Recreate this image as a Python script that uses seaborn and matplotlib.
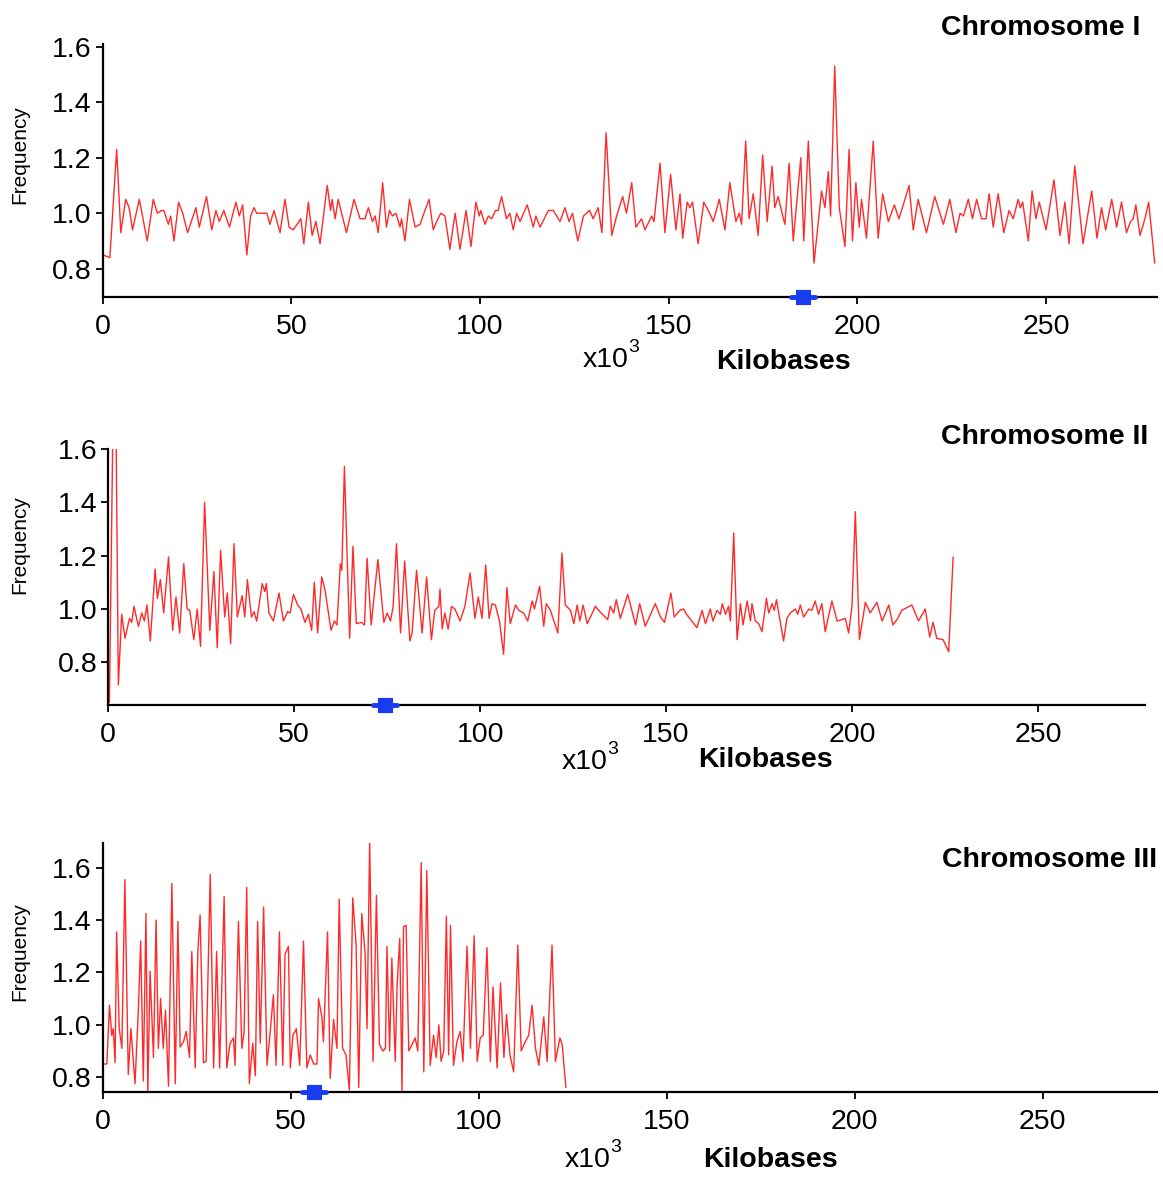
"""
Frequency along the three fission yeast chromosomes (kilobases).
"""

import matplotlib
matplotlib.use("Agg")
import matplotlib.pyplot as plt
import seaborn as sns

sns.set_style("ticks")
plt.rcParams["font.family"] = ["Liberation Sans", "DejaVu Sans"]
plt.rcParams["text.color"] = "black"
plt.rcParams["xtick.color"] = "black"
plt.rcParams["ytick.color"] = "black"
plt.rcParams["axes.edgecolor"] = "black"

W, H = 1163, 1177

# Chromosome I
chr1_kb = [
    0.0, 1.9, 3.7, 4.8, 6.1, 7.0, 7.9, 9.7, 11.8, 13.4,
    14.5, 15.6, 16.2, 17.4, 18.0, 18.9, 20.1, 21.2, 22.5, 24.7,
    25.6, 27.5, 28.9, 30.0, 30.9, 32.1, 33.6, 35.3, 36.2, 37.1,
    38.2, 39.2, 40.1, 40.8, 43.5, 44.3, 45.4, 47.0, 48.3, 49.4,
    50.5, 52.5, 53.3, 54.5, 55.5, 56.5, 57.6, 59.5, 60.4, 60.8,
    61.6, 62.4, 64.6, 66.6, 68.2, 69.5, 70.4, 71.5, 72.2, 73.0,
    74.2, 75.2, 76.0, 76.8, 77.7, 78.8, 79.2, 80.1, 81.3, 82.8,
    84.1, 85.4, 86.5, 87.6, 88.5, 89.6, 90.7, 92.0, 93.4, 94.7,
    96.3, 97.6, 98.9, 99.8, 100.2, 101.3, 102.2, 103.1, 104.1, 104.8,
    105.7, 107.0, 107.9, 108.8, 109.7, 110.6, 112.5, 114.1, 114.8, 115.9,
    118.1, 119.4, 121.2, 122.5, 123.6, 124.5, 125.9, 127.4, 129.0, 130.0,
    131.3, 132.3, 133.4, 134.9, 136.2, 137.8, 138.8, 140.2, 141.3, 142.8,
    143.7, 145.5, 146.1, 147.7, 149.0, 150.5, 151.9, 153.0, 153.7, 154.9,
    155.6, 156.3, 157.8, 159.3, 160.5, 161.8, 163.4, 164.9, 166.2, 167.8,
    168.7, 169.3, 170.4, 171.3, 172.4, 173.7, 174.9, 176.1, 177.4, 178.1,
    179.0, 180.4, 180.8, 181.9, 183.0, 185.0, 185.8, 187.0, 188.5, 190.5,
    191.4, 192.3, 192.9, 194.0, 195.2, 196.7, 197.8, 198.7, 199.6, 200.5,
    201.1, 202.4, 204.2, 205.5, 206.7, 208.2, 209.8, 211.0, 212.6, 213.7,
    214.8, 216.1, 218.3, 220.5, 222.8, 224.5, 226.1, 227.2, 228.1, 229.4,
    230.5, 231.6, 232.9, 234.1, 234.9, 236.0, 237.3, 238.8, 240.2, 241.3,
    242.6, 243.2, 243.8, 245.3, 246.3, 247.3, 248.2, 250.0, 252.1, 253.7,
    255.0, 256.1, 257.6, 259.8, 262.1, 263.5, 264.7, 265.8, 267.4, 268.7,
    270.0, 271.3, 272.4, 273.1, 273.8, 274.9, 276.2, 277.2, 278.8,
]
chr1_freq = [
    0.85, 0.84, 1.23, 0.93, 1.05, 1.02, 0.94, 1.05, 0.90, 1.05,
    1.00, 1.01, 1.01, 0.96, 0.99, 0.90, 1.04, 1.00, 0.93, 1.02,
    0.95, 1.06, 0.94, 1.01, 0.97, 1.01, 0.95, 1.04, 0.99, 1.03,
    0.85, 0.99, 1.02, 1.00, 1.00, 0.96, 1.01, 0.93, 1.05, 0.95,
    0.94, 0.98, 0.89, 1.04, 0.92, 0.97, 0.89, 1.10, 1.01, 1.05,
    0.98, 1.05, 0.93, 1.05, 0.98, 0.98, 1.02, 0.97, 0.99, 0.93,
    1.11, 0.95, 1.01, 0.99, 1.00, 0.95, 0.98, 0.90, 1.05, 0.95,
    0.96, 1.01, 1.05, 0.94, 0.97, 1.00, 0.99, 0.87, 1.00, 0.87,
    1.01, 0.88, 1.04, 0.99, 1.01, 0.96, 0.99, 0.98, 1.01, 1.01,
    1.06, 0.98, 1.00, 0.94, 1.00, 0.97, 1.03, 0.95, 0.99, 0.95,
    1.01, 1.01, 0.97, 1.02, 0.97, 1.00, 0.90, 0.99, 1.01, 0.98,
    1.02, 0.93, 1.29, 0.92, 0.99, 1.06, 1.00, 1.11, 0.95, 0.98,
    0.94, 0.99, 0.97, 1.18, 0.93, 1.14, 0.94, 1.07, 0.91, 1.04,
    1.02, 1.04, 0.89, 1.04, 1.01, 0.97, 1.05, 0.94, 1.11, 0.97,
    1.00, 0.96, 1.26, 0.98, 1.07, 0.92, 1.21, 0.97, 1.17, 1.02,
    1.06, 0.98, 0.96, 1.18, 0.90, 1.20, 0.90, 1.26, 0.82, 1.08,
    1.02, 1.15, 0.99, 1.53, 1.02, 0.88, 1.23, 0.90, 1.11, 0.95,
    1.05, 0.91, 1.26, 0.91, 1.07, 0.97, 1.03, 0.98, 1.05, 1.10,
    0.94, 1.05, 0.93, 1.06, 0.96, 1.05, 0.93, 1.00, 0.99, 1.05,
    0.98, 1.05, 0.98, 0.98, 1.07, 0.95, 1.07, 0.93, 1.01, 0.98,
    1.05, 1.02, 1.04, 0.90, 1.08, 0.98, 1.04, 0.94, 1.12, 0.92,
    1.04, 0.89, 1.17, 0.89, 1.08, 0.91, 1.02, 0.94, 1.05, 0.95,
    1.04, 0.93, 0.97, 0.98, 1.03, 0.92, 0.98, 1.04, 0.82,
]

# Chromosome II
chr2_kb = [
    0.3, 1.2, 2.1, 2.7, 3.6, 4.5, 5.7, 6.3, 6.9, 8.1,
    9.0, 9.7, 10.4, 11.3, 12.6, 13.2, 14.0, 14.9, 16.2, 17.3,
    18.2, 19.2, 20.3, 21.2, 21.9, 23.0, 23.9, 24.8, 25.9, 27.3,
    28.4, 29.3, 30.2, 31.3, 32.0, 32.9, 33.8, 34.7, 36.0, 36.7,
    37.4, 38.5, 39.2, 39.9, 41.4, 42.1, 42.5, 43.2, 44.4, 45.9,
    47.1, 48.2, 48.9, 49.8, 50.9, 51.8, 52.9, 53.8, 54.7, 55.4,
    56.3, 57.4, 58.3, 59.9, 60.8, 61.5, 62.4, 62.8, 63.5, 64.9,
    65.8, 66.7, 68.0, 68.9, 69.6, 70.7, 72.5, 74.1, 75.0, 75.9,
    76.6, 77.5, 78.6, 79.7, 81.1, 81.7, 82.9, 84.4, 85.6, 86.9,
    87.8, 88.9, 89.2, 89.8, 90.5, 91.4, 92.3, 93.2, 94.6, 95.9,
    97.3, 98.6, 99.5, 100.5, 101.5, 102.4, 103.2, 104.1, 105.2, 106.3,
    107.2, 108.1, 109.5, 110.4, 111.7, 112.8, 114.0, 114.6, 116.0, 117.1,
    117.8, 118.9, 120.9, 122.0, 122.9, 124.3, 125.2, 126.1, 126.8, 127.7,
    128.8, 131.0, 132.2, 134.3, 135.0, 135.9, 136.6, 137.7, 139.7, 141.8,
    142.9, 144.4, 147.1, 148.5, 149.6, 151.3, 152.2, 153.7, 154.7, 155.5,
    158.3, 159.7, 160.6, 161.9, 162.6, 163.7, 164.6, 165.1, 166.0, 166.8,
    167.3, 168.2, 169.1, 170.0, 170.7, 171.8, 172.7, 173.1, 174.0, 174.9,
    175.8, 177.0, 177.6, 178.5, 179.1, 179.7, 180.3, 181.6, 182.5, 183.4,
    184.8, 185.4, 186.1, 187.0, 188.4, 189.2, 190.1, 191.0, 191.9, 192.8,
    194.6, 196.0, 197.3, 198.2, 199.1, 200.0, 200.9, 202.0, 203.6, 204.9,
    206.7, 208.1, 209.9, 211.0, 212.1, 213.4, 216.1, 217.9, 219.7, 220.9,
    221.8, 222.8, 224.5, 226.0, 227.2,
]
chr2_freq = [
    0.65, 1.65, 1.65, 0.715, 0.98, 0.89, 0.965, 0.95, 1.01, 0.935,
    0.985, 0.955, 1.015, 0.88, 1.15, 1.04, 1.11, 0.985, 1.195, 0.92,
    1.045, 0.91, 1.17, 1.0, 0.995, 0.885, 1.0, 0.86, 1.40, 0.92,
    1.14, 0.855, 1.22, 0.97, 1.06, 0.87, 1.245, 0.97, 1.05, 0.97,
    1.11, 0.97, 0.99, 0.955, 1.095, 1.065, 1.095, 0.985, 0.955, 1.06,
    0.955, 0.99, 0.985, 1.055, 1.015, 1.0, 0.95, 0.98, 0.92, 1.10,
    0.91, 1.12, 1.07, 0.92, 0.955, 0.94, 1.17, 1.145, 1.535, 0.89,
    1.235, 0.945, 0.95, 0.94, 1.19, 0.94, 1.185, 0.95, 0.985, 0.955,
    1.01, 1.245, 0.91, 1.18, 0.88, 0.91, 1.145, 0.91, 1.12, 0.885,
    0.995, 1.01, 1.075, 0.925, 0.985, 0.925, 1.01, 1.0, 0.955, 1.01,
    1.135, 0.965, 1.045, 0.965, 1.165, 0.965, 1.02, 1.015, 0.955, 0.83,
    1.08, 0.945, 1.015, 0.995, 0.985, 0.955, 1.03, 1.0, 1.085, 0.935,
    1.02, 0.995, 0.91, 1.21, 1.015, 0.995, 0.945, 1.015, 0.955, 1.015,
    0.945, 1.01, 0.99, 0.96, 1.01, 0.985, 1.035, 0.965, 1.055, 0.94,
    1.02, 0.935, 1.02, 0.97, 0.95, 1.06, 0.97, 0.995, 1.0, 0.98,
    0.93, 0.995, 0.945, 1.0, 0.955, 0.995, 0.98, 1.02, 0.98, 1.01,
    0.955, 1.285, 0.885, 1.02, 0.94, 1.03, 0.955, 1.02, 0.955, 0.945,
    0.915, 1.04, 0.985, 1.02, 0.995, 1.035, 0.985, 0.88, 0.965, 0.985,
    1.0, 0.98, 1.015, 0.97, 1.0, 0.995, 1.03, 0.98, 1.02, 0.915,
    1.03, 0.955, 0.96, 0.965, 0.91, 1.01, 1.365, 0.885, 1.025, 0.985,
    1.025, 0.955, 1.015, 0.94, 0.96, 0.995, 1.015, 0.955, 1.0, 0.895,
    0.95, 0.89, 0.885, 0.84, 1.195,
]

# Chromosome III
chr3_kb = [
    0.0, 1.1, 1.8, 2.4, 2.8, 3.3, 3.7, 4.4, 5.1, 5.9,
    6.8, 7.5, 8.6, 9.5, 10.1, 10.8, 11.5, 12.0, 12.6, 13.5,
    14.2, 14.8, 15.4, 16.1, 16.7, 17.5, 18.4, 19.3, 20.0, 20.6,
    21.5, 22.2, 23.1, 23.7, 24.6, 25.3, 25.9, 26.8, 27.5, 28.6,
    29.5, 30.3, 31.1, 32.3, 33.0, 33.9, 34.8, 35.2, 36.1, 37.0,
    37.6, 38.3, 39.0, 39.9, 40.6, 41.2, 41.9, 42.8, 43.7, 44.4,
    45.4, 46.1, 47.0, 47.9, 48.5, 49.4, 49.9, 50.6, 51.5, 52.4,
    53.4, 54.3, 55.2, 56.1, 57.0, 57.4, 58.3, 58.7, 59.8, 60.5,
    61.4, 62.3, 62.9, 63.8, 64.7, 65.6, 66.5, 67.4, 68.1, 68.9,
    69.8, 70.3, 71.0, 71.9, 72.8, 73.6, 74.5, 75.2, 75.6, 76.3,
    76.9, 77.8, 78.3, 79.0, 79.6, 80.0, 80.7, 81.4, 82.3, 83.1,
    83.8, 84.7, 85.4, 86.2, 87.1, 88.0, 88.7, 89.4, 90.0, 90.7,
    91.4, 92.0, 92.5, 93.3, 94.2, 95.1, 95.8, 96.9, 97.8, 98.8,
    99.6, 100.4, 101.2, 102.2, 103.1, 103.8, 104.9, 105.8, 106.7, 107.4,
    108.3, 109.3, 110.4, 111.3, 112.4, 113.3, 114.2, 115.1, 116.0, 117.3,
    118.2, 118.6, 119.5, 120.4, 121.6, 122.2, 123.2,
]
chr3_freq = [
    0.85, 0.85, 1.075, 0.96, 0.985, 0.855, 1.355, 0.985, 0.91, 1.555,
    0.81, 0.985, 0.775, 1.065, 1.32, 0.785, 1.425, 0.74, 1.205, 0.875,
    1.40, 0.91, 1.10, 0.91, 1.055, 0.765, 1.54, 0.775, 1.395, 0.915,
    0.935, 0.975, 0.875, 1.28, 0.835, 1.28, 1.42, 0.855, 0.86, 1.575,
    0.835, 1.28, 0.835, 1.49, 0.835, 0.93, 0.95, 0.845, 1.395, 0.91,
    0.97, 1.525, 0.775, 0.93, 0.805, 1.395, 0.93, 1.45, 0.845, 0.95,
    1.115, 0.845, 1.355, 0.845, 1.27, 1.30, 0.835, 0.96, 0.985, 0.845,
    1.32, 0.835, 0.885, 0.85, 0.85, 1.10, 1.03, 0.935, 1.355, 0.795,
    1.02, 0.91, 1.48, 0.91, 0.885, 0.75, 1.485, 1.305, 0.76, 1.425,
    1.27, 0.985, 1.70, 0.86, 1.495, 0.925, 0.90, 0.91, 1.30, 0.90,
    1.255, 0.86, 1.155, 1.33, 0.745, 1.375, 1.38, 0.90, 0.925, 0.95,
    0.90, 1.62, 0.82, 1.59, 0.845, 0.96, 0.875, 1.0, 0.86, 0.90,
    1.415, 0.885, 1.38, 0.845, 0.935, 0.975, 0.86, 1.30, 0.91, 1.34,
    0.86, 0.95, 0.96, 1.295, 0.86, 1.145, 0.835, 1.16, 0.875, 1.04,
    0.885, 0.82, 1.305, 0.90, 0.935, 0.96, 1.075, 0.91, 0.845, 1.03,
    0.86, 1.015, 1.305, 0.86, 0.95, 0.925, 0.76,
]

chrom_names = ["Chromosome I", "Chromosome II", "Chromosome III"]
centromere_kb = [185.6, 74.5, 56.1]
x_ticks = [0, 50, 100, 150, 200, 250]
y_ticks = [0.8, 1.0, 1.2, 1.4, 1.6]

LINE_COLOR = "#ff2a2a"
CEN_COLOR = "#1a3cf0"


def px_x(x):
    return x / W


def px_y(y):
    return 1 - y / H


# axes boxes in pixels: left, top, right, bottom; plus limits
layout = [
    dict(box=(102.7, 44, 1157, 297), xlim=(0, 279.4), ylim=(0.698, 1.61),
         title=(1140, 28), kilo=(783, 362), x10=(583, 360), freq=(20, 155)),
    dict(box=(108.3, 449, 1145, 705), xlim=(0, 278.8), ylim=(0.64, 1.60),
         title=(1148, 437), kilo=(765, 760), x10=(562, 762), freq=(20, 545)),
    dict(box=(102.7, 843, 1157, 1092), xlim=(0, 280.4), ylim=(0.743, 1.695),
         title=(1157, 860), kilo=(770, 1160), x10=(565, 1160), freq=(20, 952)),
]
series = [(chr1_kb, chr1_freq), (chr2_kb, chr2_freq), (chr3_kb, chr3_freq)]

fig = plt.figure(figsize=(W / 100, H / 100), dpi=100)

for i, (lay, (kb, freq)) in enumerate(zip(layout, series)):
    l, t, r, b = lay["box"]
    ax = fig.add_axes([px_x(l), px_y(b), (r - l) / W, (b - t) / H])
    sns.lineplot(x=kb, y=freq, ax=ax, color=LINE_COLOR, lw=1.0,
                 estimator=None, sort=False)
    ax.set_xlim(*lay["xlim"])
    ax.set_ylim(*lay["ylim"])
    ax.set_xticks(x_ticks)
    ax.set_xticklabels([str(v) for v in x_ticks])
    ax.set_yticks(y_ticks)
    ax.set_yticklabels([f"{v:.1f}" for v in y_ticks])
    for side in ["top", "right"]:
        ax.spines[side].set_visible(False)
    for side in ["left", "bottom"]:
        ax.spines[side].set_linewidth(1.6)
        ax.spines[side].set_color("black")
    ax.tick_params(axis="both", length=5, width=1.3, labelsize=20.5,
                   color="black", labelcolor="black")
    ax.tick_params(axis="x", pad=7)
    ax.tick_params(axis="y", pad=3)
    ax.set_xlabel("")
    ax.set_ylabel("")

    # centromere marker on the axis line
    cen = centromere_kb[i]
    y0 = lay["ylim"][0]
    ax.plot([cen - 3.2, cen + 3.2], [y0, y0], color=CEN_COLOR, lw=3.5,
            clip_on=False, zorder=5, solid_capstyle="round")
    sns.scatterplot(x=[cen], y=[y0], ax=ax, marker="s", s=110, color=CEN_COLOR,
                    edgecolor=CEN_COLOR, clip_on=False, zorder=6)

    fig.text(px_x(lay["title"][0]), px_y(lay["title"][1]), chrom_names[i],
             ha="right", va="center", fontsize=20.5, fontweight="bold")
    fig.text(px_x(lay["kilo"][0]), px_y(lay["kilo"][1]), "Kilobases",
             ha="center", va="center", fontsize=20.5, fontweight="bold")
    fig.text(px_x(lay["x10"][0]), px_y(lay["x10"][1]), "x10",
             ha="left", va="center", fontsize=20.5)
    fig.text(px_x(lay["x10"][0] + 45), px_y(lay["x10"][1] - 13), "3",
             ha="left", va="center", fontsize=14)
    fig.text(px_x(lay["freq"][0]), px_y(lay["freq"][1]), "Frequency",
             ha="center", va="center", rotation=90, fontsize=15)

fig.savefig("out.png", dpi=100, facecolor="white")
plt.close(fig)
